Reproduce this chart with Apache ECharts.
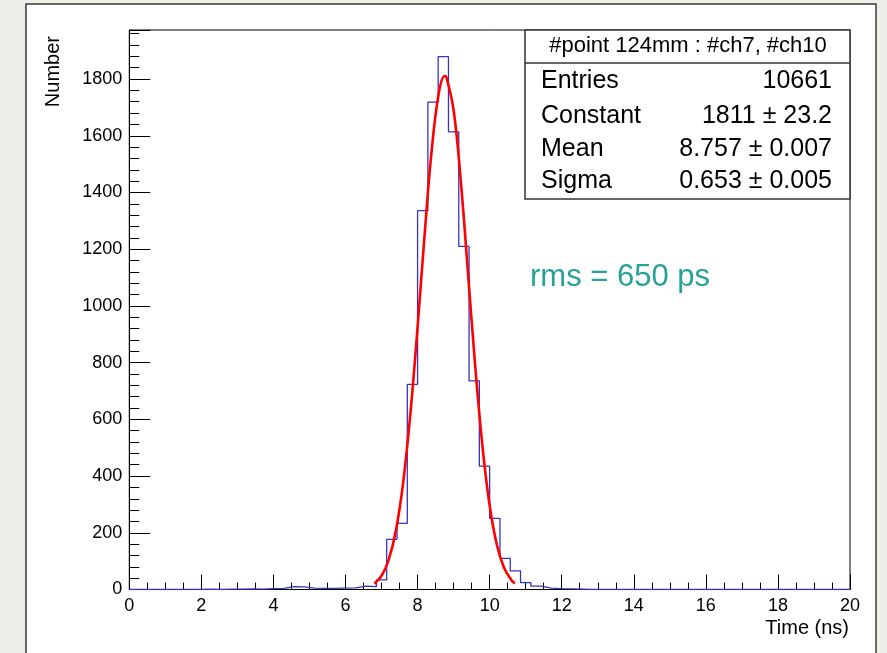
<!DOCTYPE html>
<html>
<head>
<meta charset="utf-8">
<script src="https://cdn.jsdelivr.net/npm/echarts@6/dist/echarts.min.js"></script>
<style>
html,body{margin:0;padding:0;background:#efede7;}
#c{width:887px;height:653px;}
</style>
</head>
<body>
<div id="c"></div>
<script>
// ---- data ----
const xRange = [0, 20];
const binCount = 70;
const counts = [0,0,0,0,0,0,0,1,0,1,1,2,1,3,4,10,9,5,4,4,5,6,12,10,34,177,233,723,1336,1719,1879,1614,1210,736,435,251,110,66,24,12,5,3,2,1,0,0,0,0,0,0,0,0,0,0,0,0,0,0,0,0,0,0,0,0,0,0,0,0,0,0];
const fitX = [6.8,7.0,7.2,7.4,7.6,7.8,8.0,8.2,8.4,8.6,8.757,8.8,9.0,9.2,9.4,9.6,9.8,10.0,10.2,10.4,10.6,10.7];
const fitY = [20.3,48.5,105.5,209,377,619,925,1259,1560,1759,1811,1807,1690,1439,1115,787,506,296,157.6,76.4,33.8,21.6];
const statsTitle = '#point 124mm : #ch7, #ch10';
const statsNames = ['Entries','Constant','Mean','Sigma'];
const statsValues = ['10661','1811 \u00b1 23.2','8.757 \u00b1 0.007','0.653 \u00b1 0.005'];
const yMax = 1973;

const binWidth = (xRange[1]-xRange[0]) / binCount;
const histPts = counts.map((v,k)=>[xRange[0]+k*binWidth, v]);
histPts.push([xRange[1], counts[counts.length-1]]);
const fitPts = fitX.map((x,i)=>[x, fitY[i]]);

const FF = '"Liberation Sans", Arial, Helvetica, sans-serif';
const chart = echarts.init(document.getElementById('c'));

const rowY = [81,116,149,181];
const statsGraphics = [
  {type:'rect', shape:{x:525,y:30,width:325,height:169}, style:{fill:'#fff',stroke:'#333',lineWidth:1.5}, z:50},
  {type:'line', shape:{x1:525,y1:63,x2:850,y2:63}, style:{stroke:'#333',lineWidth:1.5}, z:51},
  {type:'text', x:688, y:46, style:{text:statsTitle, font:'22px '+FF, fill:'#000', align:'center', verticalAlign:'middle'}, z:52}
];
statsNames.forEach((n,i)=>{
  statsGraphics.push({type:'text', x:541, y:rowY[i], style:{text:n, font:'25px '+FF, fill:'#000', align:'left', verticalAlign:'middle'}, z:52});
  statsGraphics.push({type:'text', x:832, y:rowY[i], style:{text:statsValues[i], font:'25px '+FF, fill:'#000', align:'right', verticalAlign:'middle'}, z:52});
});

chart.setOption({
  backgroundColor:'#efede7',
  animation:false,
  grid:{left:129.3, right:37, top:30, bottom:63.5, show:true, borderColor:'#000', borderWidth:1, backgroundColor:'transparent'},
  xAxis:{
    type:'value', min:0, max:20, interval:2,
    axisLine:{show:true, onZero:false, lineStyle:{color:'#000', width:1}},
    axisTick:{show:true, inside:true, length:15, lineStyle:{color:'#000', width:1}},
    minorTick:{show:true, splitNumber:4, length:7, lineStyle:{color:'#000', width:1}},
    axisLabel:{color:'#000', fontFamily:FF, fontSize:18, margin:8},
    splitLine:{show:false}
  },
  yAxis:{
    type:'value', min:0, max:yMax, interval:200,
    axisLine:{show:true, onZero:false, lineStyle:{color:'#000', width:1}},
    axisTick:{show:true, inside:true, length:21, lineStyle:{color:'#000', width:1}},
    minorTick:{show:true, splitNumber:5, length:10, lineStyle:{color:'#000', width:1}},
    axisLabel:{color:'#000', fontFamily:FF, fontSize:18, margin:7, showMaxLabel:false,
      formatter:v=> (Math.round(v)%200===0 ? String(Math.round(v)) : '')},
    splitLine:{show:false}
  },
  graphic:[
    {type:'rect', shape:{x:26,y:4,width:850,height:700}, style:{fill:'#fff',stroke:'#3a3a3a',lineWidth:1.5}, z:-10, silent:true},
    {type:'text', x:53, y:36, rotation:Math.PI/2, style:{text:'Number', font:'20px '+FF, fill:'#000', align:'right', verticalAlign:'middle'}, z:10},
    {type:'text', x:849, y:628, style:{text:'Time (ns)', font:'20px '+FF, fill:'#000', align:'right', verticalAlign:'middle'}, z:10},
    {type:'text', x:530, y:277, style:{text:'rms = 650 ps', font:'31px '+FF, fill:'#2aa198', align:'left', verticalAlign:'middle'}, z:10}
  ].concat(statsGraphics),
  series:[
    {type:'line', data:histPts, step:'end', symbol:'none', lineStyle:{color:'#3434c4', width:1.3}, z:3, clip:true},
    {type:'line', data:fitPts, smooth:0.4, symbol:'none', lineStyle:{color:'#ff0000', width:2.6}, z:4}
  ]
});
</script>
</body>
</html>
